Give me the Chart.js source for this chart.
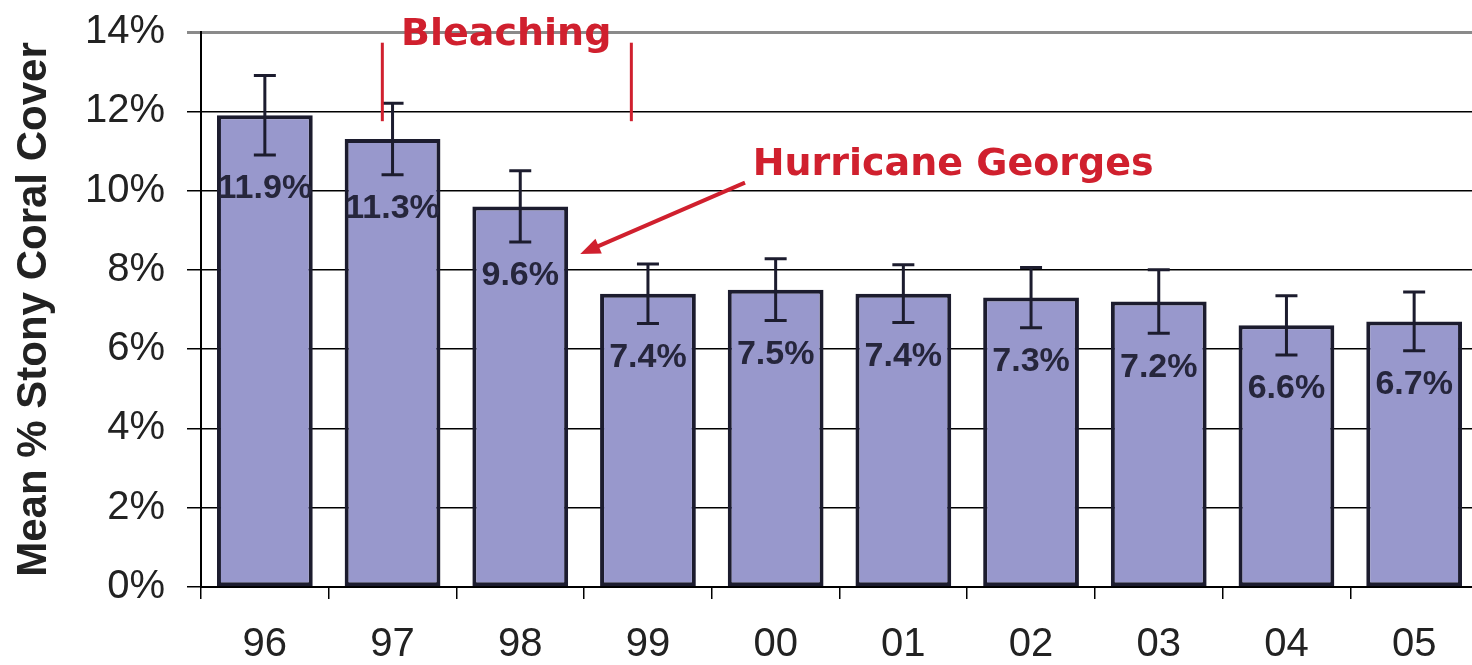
<!DOCTYPE html>
<html>
<head>
<meta charset="utf-8">
<script src="https://cdn.jsdelivr.net/npm/chart.js@4/dist/chart.umd.min.js"></script>
<style>
  html, body { margin: 0; padding: 0; background: #fff; overflow: hidden; }
  #wrap { width: 1480px; height: 665px; position: relative; }
</style>
</head>
<body>
<div id="wrap"><canvas id="coralChart"></canvas></div>
<script>
// survey years and mean stony coral cover (%)
const years = ['96', '97', '98', '99', '00', '01', '02', '03', '04', '05'];
const coverValues = [11.9, 11.3, 9.6, 7.4, 7.5, 7.4, 7.3, 7.2, 6.6, 6.7];
const coverErrors = [1.0, 0.9, 0.9, 0.75, 0.78, 0.73, 0.76, 0.8, 0.75, 0.74];
const yTicks = [0, 2, 4, 6, 8, 10, 12, 14];

const RED = '#d0202e';
const INK = '#1c1c2e';
const FONT = 'Liberation Sans, Arial, sans-serif';
const NOTE_FONT = 'DejaVu Sans, Verdana, sans-serif';

// error bars + value labels
const errorBars = {
    id: 'errorBars',
    afterDatasetsDraw(chart) {
        const ctx = chart.ctx;
        const y = chart.scales.y;
        const meta = chart.getDatasetMeta(0);
        ctx.save();
        meta.data.forEach((bar, i) => {
            const v = coverValues[i];
            const e = coverErrors[i];
            const top = y.getPixelForValue(v + e);
            const bot = y.getPixelForValue(v - e);
            ctx.strokeStyle = INK;
            ctx.lineWidth = 3;
            ctx.beginPath();
            ctx.moveTo(bar.x, top);
            ctx.lineTo(bar.x, bot);
            ctx.moveTo(bar.x - 11, top);
            ctx.lineTo(bar.x + 11, top);
            ctx.moveTo(bar.x - 11, bot);
            ctx.lineTo(bar.x + 11, bot);
            ctx.stroke();

            ctx.fillStyle = '#26263c';
            ctx.font = 'bold 34px "Liberation Sans Narrow", "Arial Narrow", ' + FONT;
            ctx.textAlign = 'center';
            ctx.textBaseline = 'middle';
            ctx.fillText(v.toFixed(1) + '%', bar.x, bot + 34);
        });
        ctx.restore();
    }
};

// bleaching bracket and hurricane arrow
const notes = {
    id: 'notes',
    afterDraw(chart) {
        const ctx = chart.ctx;
        const x = chart.scales.x;
        const y = chart.scales.y;
        ctx.save();
        ctx.strokeStyle = RED;
        ctx.fillStyle = RED;
        ctx.lineWidth = 3;
        [0.92, 2.87].forEach(p => {
            ctx.beginPath();
            ctx.moveTo(x.getPixelForValue(p), y.getPixelForValue(13.73));
            ctx.lineTo(x.getPixelForValue(p), y.getPixelForValue(11.75));
            ctx.stroke();
        });
        ctx.font = 'bold 38px ' + NOTE_FONT;
        ctx.textAlign = 'center';
        ctx.textBaseline = 'middle';
        ctx.fillText('Bleaching', x.getPixelForValue(1.89), y.getPixelForValue(13.93));
        ctx.fillText('Hurricane Georges', x.getPixelForValue(5.39), y.getPixelForValue(10.64));

        const x1 = x.getPixelForValue(3.76), y1 = y.getPixelForValue(10.2);
        const x2 = x.getPixelForValue(2.47), y2 = y.getPixelForValue(8.4);
        const ang = Math.atan2(y2 - y1, x2 - x1);
        ctx.lineWidth = 4;
        ctx.beginPath();
        ctx.moveTo(x1, y1);
        ctx.lineTo(x2 - 14 * Math.cos(ang), y2 - 14 * Math.sin(ang));
        ctx.stroke();
        ctx.beginPath();
        ctx.moveTo(x2, y2);
        ctx.lineTo(x2 - 20 * Math.cos(ang) + 8 * Math.sin(ang), y2 - 20 * Math.sin(ang) - 8 * Math.cos(ang));
        ctx.lineTo(x2 - 20 * Math.cos(ang) - 8 * Math.sin(ang), y2 - 20 * Math.sin(ang) + 8 * Math.cos(ang));
        ctx.closePath();
        ctx.fill();
        ctx.restore();
    }
};

new Chart(document.getElementById('coralChart'), {
    type: 'bar',
    data: {
        labels: years,
        datasets: [{
            data: coverValues,
            backgroundColor: '#9898cc',
            borderColor: INK,
            borderWidth: 4,
            borderSkipped: false,
            categoryPercentage: 1,
            barPercentage: 0.75
        }]
    },
    options: {
        responsive: true,
        maintainAspectRatio: false,
        animation: false,
        layout: { padding: { top: 32, right: 2, left: 0, bottom: 0 } },
        plugins: {
            legend: { display: false },
            tooltip: { enabled: false }
        },
        scales: {
            x: {
                offset: true,
                afterFit(s) { s.height = 78; s.paddingLeft = 0; s.paddingRight = 0; },
                grid: {
                    offset: true,
                    drawOnChartArea: false,
                    drawTicks: true,
                    tickLength: 12,
                    color: '#000',
                    lineWidth: 1.5
                },
                border: { display: true, color: '#000', width: 2 },
                ticks: {
                    color: '#222',
                    padding: 22,
                    font: { family: FONT, size: 40 }
                }
            },
            y: {
                min: 0,
                max: 14,
                afterFit(s) { s.width = 201; s.paddingTop = 0; s.paddingBottom = 0; },
                afterBuildTicks(s) { s.ticks = yTicks.map(v => ({ value: v })); },
                grid: {
                    color: c => (c.tick && c.tick.value === 14 ? '#8a8a8a' : '#000'),
                    lineWidth: c => (c.tick && c.tick.value === 14 ? 3 : 1.5),
                    tickLength: 14
                },
                border: { display: true, color: '#000', width: 2 },
                ticks: {
                    color: '#222',
                    padding: 22,
                    font: { family: FONT, size: 40 },
                    callback: v => v + '%'
                },
                title: {
                    display: true,
                    text: 'Mean % Stony Coral Cover',
                    color: '#222',
                    font: { family: FONT, size: 42, weight: 'bold', lineHeight: 1 },
                    padding: { top: 13, bottom: 0 }
                }
            }
        }
    },
    plugins: [errorBars, notes]
});
</script>
</body>
</html>
